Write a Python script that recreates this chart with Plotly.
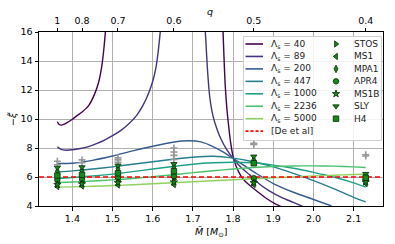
import plotly.graph_objects as go

# ---------------- data ----------------
M_COLS = [1.3627, 1.424, 1.5135, 1.6527, 1.8515, 2.13]
Q_LABELS = ["1", "0.8", "0.7", "0.6", "0.5", "0.4"]
X_TICKS = [1.4, 1.5, 1.6, 1.7, 1.8, 1.9, 2.0, 2.1]
Y_TICKS = [4, 6, 8, 10, 12, 14, 16]
DE_XI = 6.0

LAM_LABELS = ["40", "89", "200", "447", "1000", "2236", "5000"]
LAM_COLORS = ["#440154", "#46337e", "#365c8d", "#277f8e", "#1fa187", "#4ac16d", "#8fd15f"]

LAM40_M = [1.3627, 1.367, 1.373, 1.385, 1.40, 1.41, 1.425, 1.44, 1.455, 1.465, 1.473, 1.479, 1.483, 1.486, None,
           1.774, 1.777, 1.780, 1.784, 1.789, 1.794, 1.80, 1.808, 1.82, 1.83, 1.841, 1.865, 1.887, 1.905, 1.92]
LAM40_Y = [9.81, 9.62, 9.58, 9.72, 9.98, 10.2, 10.5, 10.9, 11.7, 12.5, 13.6, 15.0, 16.3, 17.5, None,
           16.8, 14.5, 12.5, 10.9, 9.5, 8.35, 7.4, 6.7, 6.05, 5.7, 5.43, 4.9, 4.45, 4.15, 3.95]

LAM89_M = [1.3627, 1.372, 1.384, 1.40, 1.42, 1.44, 1.46, 1.48, 1.50, 1.52, 1.54, 1.56, 1.575, 1.59, 1.60,
           1.607, 1.613, 1.618, 1.622, None,
           1.729, 1.732, 1.736, 1.742, 1.750, 1.760, 1.771, 1.785, 1.80, 1.82, 1.842, 1.866, 1.89, 1.92, 1.95, 1.975]
LAM89_Y = [8.08, 7.9, 7.85, 7.88, 7.97, 8.1, 8.3, 8.55, 8.85, 9.2, 9.65, 10.25, 10.9, 11.8, 12.6,
           13.4, 14.5, 15.8, 17.0, None,
           16.8, 15.5, 13.5, 11.5, 10.2, 9.3, 8.55, 7.85, 7.28, 6.65, 6.13, 5.5, 5.05, 4.6, 4.25, 3.95]

LAM200_M = [1.3627, 1.40, 1.45, 1.50, 1.55, 1.60, 1.65, 1.69, 1.72, 1.75, 1.78, 1.80, 1.83, 1.858, 1.90, 1.95, 2.00, 2.045]
LAM200_Y = [6.93, 6.95, 7.15, 7.45, 7.8, 8.12, 8.4, 8.5, 8.42, 8.1, 7.65, 7.28, 6.75, 6.24, 5.55, 4.95, 4.45, 4.0]

M_GRID = [1.3627, 1.40, 1.45, 1.50, 1.55, 1.60, 1.65, 1.70, 1.75, 1.80, 1.85, 1.90, 1.95, 2.00, 2.05, 2.10, 2.13]
LAM447_Y = [6.35, 6.42, 6.55, 6.7, 6.88, 7.05, 7.22, 7.36, 7.43, 7.3, 7.05, 6.7, 6.25, 5.75, 5.2, 4.6, 4.28]
LAM1000_Y = [5.9, 5.97, 6.07, 6.2, 6.37, 6.55, 6.72, 6.88, 6.98, 7.02, 6.98, 6.82, 6.6, 6.32, 6.0, 5.6, 5.31]
LAM2236_Y = [5.62, 5.65, 5.72, 5.8, 5.9, 6.02, 6.15, 6.3, 6.43, 6.55, 6.65, 6.72, 6.76, 6.77, 6.75, 6.7, 6.66]
LAM5000_Y = [5.3, 5.32, 5.36, 5.41, 5.47, 5.53, 5.6, 5.67, 5.74, 5.81, 5.88, 5.95, 6.01, 6.07, 6.12, 6.17, 6.19]

EOS_NAMES = ["STOS", "MS1", "MPA1", "APR4", "MS1B", "SLY", "H4"]
EOS_SYMBOLS = ["triangle-right", "triangle-left", "diamond-tall", "circle", "star", "triangle-down", "square"]
EOS_VALUES = {
    "STOS": [5.62, 5.66, 5.75, 5.85, 5.72, 5.75],
    "MS1":  [5.34, 5.38, 5.45, 5.48, 5.48, 5.55],
    "MPA1": [6.40, 6.45, 6.58, 6.70, 7.18, 6.05],
    "APR4": [5.80, 5.85, 5.95, 6.05, 5.92, 5.85],
    "MS1B": [5.48, 5.52, 5.60, 5.65, 5.60, 5.65],
    "SLY":  [6.65, 6.68, 6.80, 6.90, 7.42, 6.22],
    "H4":   [6.10, 6.15, 6.26, 6.40, 6.95, 5.95],
}
GRAY_VALUES = [[7.09, 6.84], [7.18, 6.98], [7.32, 7.18, 7.02], [8.0, 7.72, 7.49, 7.21], [8.25, 8.32], [7.45, 7.53]]

# ---------------- layout constants ----------------
W, H = 395, 244
ML, MR, MT, MB = 39, 12, 32, 38
X_RANGE = [1.317, 2.173]
Y_RANGE = [4, 16]
FONT = "DejaVu Sans"
GRID = "#b0b0b0"
FS = 9.5
MK_GREEN = "#138a13"
MK_EDGE = "#0a2a0a"

fig = go.Figure()

lam_sets = [(LAM40_M, LAM40_Y), (LAM89_M, LAM89_Y), (LAM200_M, LAM200_Y),
            (M_GRID, LAM447_Y), (M_GRID, LAM1000_Y), (M_GRID, LAM2236_Y), (M_GRID, LAM5000_Y)]
for (mx, my), col in zip(lam_sets, LAM_COLORS):
    fig.add_trace(go.Scatter(x=mx, y=my, mode="lines", connectgaps=False,
                             line=dict(color=col, width=1.4, shape="spline", smoothing=0.6),
                             showlegend=False, hoverinfo="skip"))

fig.add_trace(go.Scatter(x=X_RANGE, y=[DE_XI, DE_XI], mode="lines",
                         line=dict(color="#ff0000", width=1.4, dash="5px,3px"),
                         showlegend=False))

gx, gy = [], []
for m, vals in zip(M_COLS, GRAY_VALUES):
    for v in vals:
        gx.append(m)
        gy.append(v)
fig.add_trace(go.Scatter(x=gx, y=gy, mode="markers",
                         marker=dict(symbol="cross-thin", size=5, color="#999999",
                                     line=dict(color="#999999", width=1.6)),
                         showlegend=False))

for name, sym in zip(EOS_NAMES, EOS_SYMBOLS):
    fig.add_trace(go.Scatter(x=M_COLS, y=EOS_VALUES[name], mode="markers",
                             marker=dict(symbol=sym, size=5.5, color=MK_GREEN,
                                         line=dict(color=MK_EDGE, width=0.8)),
                             showlegend=False))

# ---------------- manual legend (overlay axes in 0..1) ----------------
PW = W - ML - MR
PH = H - MT - MB
def ux(px):
    return (px - ML) / PW
def vy(py):
    return (H - MB - py) / PH

bx0, bx1, by0, by1 = ux(243.5), ux(381.5), vy(140.5), vy(36.5)
fig.add_trace(go.Scatter(x=[bx0, bx1, bx1, bx0, bx0], y=[by0, by0, by1, by1, by0],
                         mode="lines", fill="toself", fillcolor="rgba(255,255,255,0.85)",
                         line=dict(color="#d0d0d0", width=1), xaxis="x3", yaxis="y3",
                         showlegend=False, hoverinfo="skip"))

row_py = [44 + 12.45 * i for i in range(8)]
line_cols = LAM_COLORS + ["#ff0000"]
for i, col in enumerate(line_cols[:8]):
    dash = "solid" if i < 7 else "3px,2px"
    fig.add_trace(go.Scatter(x=[ux(245.5), ux(263)], y=[vy(row_py[i])] * 2, mode="lines",
                             line=dict(color=col, width=1.6, dash=dash), xaxis="x3", yaxis="y3",
                             showlegend=False, hoverinfo="skip"))
for i, lab in enumerate(LAM_LABELS):
    fig.add_annotation(x=ux(269), y=vy(row_py[i]), xref="paper", yref="paper",
                       text="Λ<sub>s</sub> = " + lab, showarrow=False, xanchor="left", yanchor="middle",
                       font=dict(size=9, family=FONT, color="#222"))
fig.add_annotation(x=ux(269), y=vy(row_py[7]), xref="paper", yref="paper",
                   text="[De et al]", showarrow=False, xanchor="left", yanchor="middle",
                   font=dict(size=9, family=FONT, color="#222"))
for i, (name, sym) in enumerate(zip(EOS_NAMES, EOS_SYMBOLS)):
    fig.add_trace(go.Scatter(x=[ux(336)], y=[vy(row_py[i])], mode="markers",
                             marker=dict(symbol=sym, size=5.5, color=MK_GREEN,
                                         line=dict(color=MK_EDGE, width=0.8)),
                             xaxis="x3", yaxis="y3", showlegend=False, hoverinfo="skip"))
    fig.add_annotation(x=ux(352), y=vy(row_py[i]), xref="paper", yref="paper",
                       text=name, showarrow=False, xanchor="left", yanchor="middle",
                       font=dict(size=9, family=FONT, color="#222"))

# axis titles as annotations for exact placement
fig.add_annotation(x=ux(211), y=vy(232), xref="paper", yref="paper", showarrow=False,
                   text="<i>M̃</i> [<i>M</i><sub>⊙</sub>]", xanchor="center", yanchor="middle",
                   font=dict(size=FS, family=FONT, color="black"))
fig.add_annotation(x=ux(210), y=vy(12), xref="paper", yref="paper", showarrow=False,
                   text="<i>q</i>", xanchor="center", yanchor="middle",
                   font=dict(size=FS, family=FONT, color="black"))
fig.add_annotation(x=ux(12), y=vy(119), xref="paper", yref="paper", showarrow=False,
                   text="−<i>ξ̃</i>", textangle=-90, xanchor="center", yanchor="middle",
                   font=dict(size=FS, family=FONT, color="black"))

axis_common = dict(ticks="outside", ticklen=3.5, tickwidth=0.8, tickcolor="black",
                   showline=True, linecolor="black", linewidth=1, automargin=False,
                   tickfont=dict(size=FS, family=FONT, color="black"), zeroline=False)

fig.update_layout(
    width=W, height=H, margin=dict(l=ML, r=MR, t=MT, b=MB),
    paper_bgcolor="white", plot_bgcolor="white",
    font=dict(family=FONT, size=FS, color="black"),
    xaxis=dict(range=X_RANGE, tickvals=X_TICKS, ticktext=[f"{t:.1f}" for t in X_TICKS],
               showgrid=True, gridcolor=GRID, gridwidth=0.8, mirror=False, **axis_common),
    yaxis=dict(range=Y_RANGE, tickvals=Y_TICKS, showgrid=True, gridcolor=GRID, gridwidth=0.8,
               mirror=True, **axis_common),
    xaxis2=dict(range=X_RANGE, overlaying="x", side="top", tickvals=M_COLS, ticktext=Q_LABELS,
                showgrid=False, **axis_common),
    xaxis3=dict(range=[0, 1], overlaying="x", visible=False, fixedrange=True),
    yaxis3=dict(range=[0, 1], overlaying="y", visible=False, fixedrange=True),
)
fig.add_trace(go.Scatter(x=[M_COLS[0]], y=[Y_RANGE[0]], xaxis="x2", mode="markers",
                         marker=dict(opacity=0), showlegend=False, hoverinfo="skip"))

fig.write_html("out.html", config={"displayModeBar": False},
               post_script="document.body.style.margin='0px';document.body.style.padding='0px';"
                           "document.documentElement.style.overflow='hidden';")
